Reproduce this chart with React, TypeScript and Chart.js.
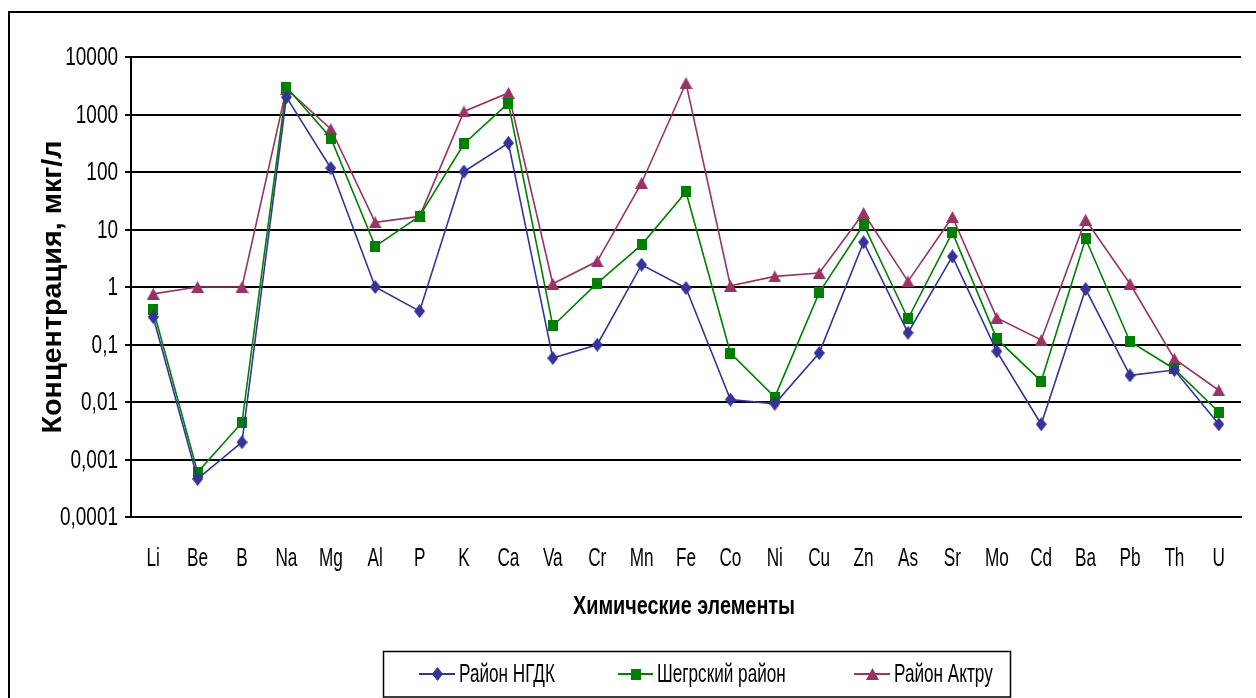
import React, { useEffect, useRef } from 'react';
import { Chart, registerables } from 'chart.js';

Chart.register(...registerables);

// Chemical elements along the x axis
const elements = ['Li', 'Be', 'B', 'Na', 'Mg', 'Al', 'P', 'K', 'Ca', 'Va', 'Cr', 'Mn', 'Fe', 'Co', 'Ni', 'Cu', 'Zn', 'As', 'Sr', 'Mo', 'Cd', 'Ba', 'Pb', 'Th', 'U'];

// Concentrations, µg/l
const ngdk = [0.30, 0.00046, 0.0020, 2000, 117, 1.0, 0.38, 102, 319, 0.058, 0.099, 2.44, 0.96, 0.011, 0.0093, 0.071, 6.0, 0.16, 3.4, 0.076, 0.0041, 0.92, 0.029, 0.036, 0.0041];
const shegr = [0.41, 0.00060, 0.0044, 3000, 390, 5.1, 17, 310, 1580, 0.21, 1.17, 5.4, 45, 0.071, 0.0122, 0.80, 12.1, 0.28, 8.9, 0.125, 0.023, 6.9, 0.113, 0.0375, 0.0067];
const aktru = [0.76, 1.0, 1.0, 2800, 560, 13.3, 16.9, 1130, 2370, 1.14, 2.8, 64.5, 3530, 1.05, 1.53, 1.75, 19.4, 1.25, 16.5, 0.29, 0.12, 14.8, 1.14, 0.056, 0.016];

const seriesNames = ['Район НГДК', 'Шегрский район', 'Район Актру'];
const seriesColors = ['#333399', '#008000', '#993366'];
const seriesMarkers = ['diamond', 'square', 'triangle'];

const yTicks = [0.0001, 0.001, 0.01, 0.1, 1, 10, 100, 1000, 10000];
const yTickLabels = ['0,0001', '0,001', '0,01', '0,1', '1', '10', '100', '1000', '10000'];

const xTitle = 'Химические элементы';
const yTitle = 'Концентрация, мкг/л';

const SANS = '"Liberation Sans", Arial, sans-serif';

function makeMarker(kind: string, color: string): HTMLCanvasElement {
  const c = document.createElement('canvas');
  const dims: Record<string, [number, number]> = {
    diamond: [11, 14],
    square: [10, 11],
    triangle: [13, 12],
  };
  const [w, h] = dims[kind];
  c.width = w;
  c.height = h;
  const g = c.getContext('2d')!;
  g.fillStyle = color;
  g.beginPath();
  if (kind === 'diamond') {
    g.moveTo(w / 2, 0);
    g.lineTo(w, h / 2);
    g.lineTo(w / 2, h);
    g.lineTo(0, h / 2);
  } else if (kind === 'square') {
    g.rect(0, 0, w, h);
  } else {
    g.moveTo(w / 2, 0);
    g.lineTo(w, h);
    g.lineTo(0, h);
  }
  g.closePath();
  g.fill();
  return c;
}

// Condensed text: regular face squeezed horizontally
function narrowText(
  ctx: CanvasRenderingContext2D,
  text: string,
  x: number,
  y: number,
  align: CanvasTextAlign,
  sx: number,
  font: string,
) {
  ctx.save();
  ctx.translate(x, y);
  ctx.scale(sx, 1);
  ctx.font = font;
  ctx.fillStyle = '#000';
  ctx.textAlign = align;
  ctx.textBaseline = 'middle';
  ctx.fillText(text, 0, 0);
  ctx.restore();
}

export default function App() {
  const ref = useRef<HTMLCanvasElement>(null);

  useEffect(() => {
    const canvas = ref.current!;
    const markers = seriesColors.map((c, i) => makeMarker(seriesMarkers[i], c));

    const decorations = {
      id: 'decorations',
      afterDraw(chart: any) {
        const ctx = chart.ctx as CanvasRenderingContext2D;
        const xs = chart.scales.x;
        const ys = chart.scales.y;
        ctx.save();

        // outer frame
        ctx.strokeStyle = '#000';
        ctx.lineWidth = 2;
        ctx.beginPath();
        ctx.moveTo(9, 698);
        ctx.lineTo(9, 12);
        ctx.lineTo(1256, 12);
        ctx.stroke();

        // tick labels
        const tickFont = '26px ' + SANS;
        elements.forEach((el, i) => {
          narrowText(ctx, el, xs.getPixelForTick(i), 559, 'center', 0.66, tickFont);
        });
        yTicks.forEach((v, i) => {
          narrowText(ctx, yTickLabels[i], ys.left + ys.width - 13, ys.getPixelForValue(v) + 1, 'right', 0.73, tickFont);
        });

        // y axis title
        ctx.save();
        ctx.translate(54, 287);
        ctx.rotate(-Math.PI / 2);
        ctx.font = 'bold 27px ' + SANS;
        ctx.fillStyle = '#000';
        ctx.textAlign = 'center';
        ctx.textBaseline = 'middle';
        const yw = ctx.measureText(yTitle).width;
        ctx.scale(293 / yw, 1);
        ctx.fillText(yTitle, 0, 0);
        ctx.restore();

        // x axis title
        ctx.save();
        ctx.translate(684, 607);
        ctx.font = 'bold 26px ' + SANS;
        ctx.fillStyle = '#000';
        ctx.textAlign = 'center';
        ctx.textBaseline = 'middle';
        const xw = ctx.measureText(xTitle).width;
        ctx.scale(222 / xw, 1);
        ctx.fillText(xTitle, 0, 0);
        ctx.restore();

        // legend
        ctx.lineWidth = 1.5;
        ctx.strokeStyle = '#000';
        ctx.strokeRect(383.5, 651.5, 627, 45.5);
        const cy = 674;
        const items = [
          [419, 455, 459],
          [618, 653, 657],
          [854, 890, 894],
        ];
        items.forEach(([x0, x1, tx], i) => {
          ctx.strokeStyle = seriesColors[i];
          ctx.lineWidth = 2;
          ctx.beginPath();
          ctx.moveTo(x0, cy);
          ctx.lineTo(x1, cy);
          ctx.stroke();
          const m = markers[i];
          ctx.drawImage(m, Math.round((x0 + x1) / 2 - m.width / 2), Math.round(cy - m.height / 2));
          narrowText(ctx, seriesNames[i], tx, cy + 1, 'left', 0.66, tickFont);
        });

        ctx.restore();
      },
    };

    const datasets = [ngdk, shegr, aktru].map((d, i) => ({
      label: seriesNames[i],
      data: d,
      borderColor: seriesColors[i],
      backgroundColor: seriesColors[i],
      borderWidth: 1.6,
      pointStyle: markers[i],
      pointRadius: 6,
      pointHoverRadius: 6,
      tension: 0,
    }));

    const chart = new Chart(canvas, {
      type: 'line',
      data: { labels: elements, datasets },
      options: {
        responsive: false,
        animation: false,
        events: [],
        layout: { padding: { left: 0, top: 57, right: 15, bottom: 0 } },
        plugins: {
          legend: { display: false },
          tooltip: { enabled: false },
        },
        scales: {
          x: {
            type: 'category',
            offset: true,
            grid: { display: false },
            border: { display: true, color: '#000', width: 2 },
            ticks: { display: false, autoSkip: false, maxRotation: 0 },
            afterFit(scale: any) {
              scale.height = 181;
            },
          },
          y: {
            type: 'logarithmic',
            min: 0.0001,
            max: 10000,
            grid: { color: '#000', lineWidth: 2, tickLength: 6, tickColor: '#000', tickWidth: 2 },
            border: { display: true, color: '#000', width: 2 },
            ticks: { display: false },
            afterBuildTicks(scale: any) {
              scale.ticks = yTicks.map((v) => ({ value: v }));
            },
            afterFit(scale: any) {
              scale.width = 131;
            },
          },
        },
      },
      plugins: [decorations],
    });

    return () => chart.destroy();
  }, []);

  return (
    <div style={{ position: 'fixed', left: 0, top: 0, width: 1256, height: 698, background: '#fff' }}>
      <canvas ref={ref} width={1256} height={698} style={{ display: 'block' }} />
    </div>
  );
}
